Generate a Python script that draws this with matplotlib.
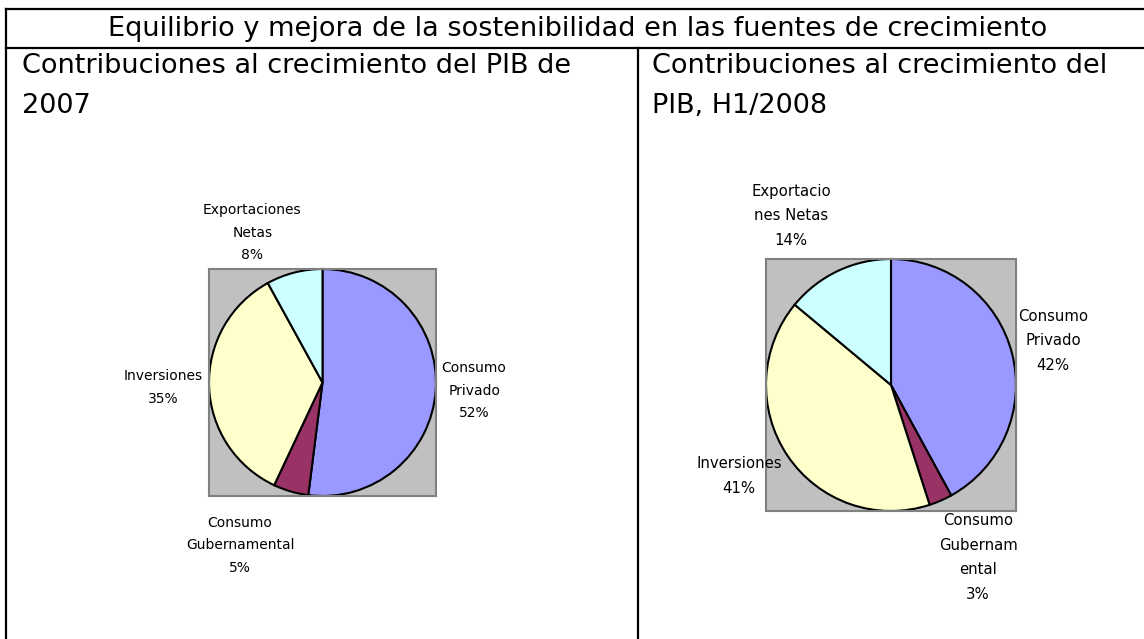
import matplotlib.pyplot as plt

# Data
categories_2007 = ['Consumo\nPrivado', 'Consumo\nGubernamental', 'Inversiones', 'Exportaciones\nNetas']
shares_2007 = [52, 5, 35, 8]
categories_2008 = ['Consumo\nPrivado', 'Consumo\nGubernam\nental', 'Inversiones', 'Exportacio\nnes Netas']
shares_2008 = [42, 3, 41, 14]

title = 'Equilibrio y mejora de la sostenibilidad en las fuentes de crecimiento'
title_2007 = 'Contribuciones al crecimiento del PIB de\n2007'
title_2008 = 'Contribuciones al crecimiento del\nPIB, H1/2008'

colors = ['#9999FF', '#993366', '#FFFFCC', '#CCFFFF']

W, H = 1144, 639
fig = plt.figure(figsize=(W / 100, H / 100), dpi=100)
fig.patch.set_facecolor('white')

# overlay in pixel coords for the table frame and headings
bg = fig.add_axes([0, 0, 1, 1])
bg.set_xlim(0, W)
bg.set_ylim(H, 0)
bg.axis('off')
lw = 1.6
bg.plot([6, W], [9, 9], color='black', lw=lw)
bg.plot([6, W], [48, 48], color='black', lw=lw)
bg.plot([6, 6], [9, H], color='black', lw=lw)
bg.plot([638, 638], [48, H], color='black', lw=lw)

bg.text(578, 29, title, ha='center', va='center', fontsize=19.5)
bg.text(22, 53, title_2007, ha='left', va='top', fontsize=19.5, linespacing=1.7)
bg.text(652, 53, title_2008, ha='left', va='top', fontsize=19.5, linespacing=1.7)


def draw_pie(box, values, labels, label_pos, fs, ls):
    x0, y0, x1, y1 = box
    ax = fig.add_axes([x0 / W, 1 - y1 / H, (x1 - x0) / W, (y1 - y0) / H])
    wedges, texts = ax.pie(values, labels=[f'{l}\n{v}%' for l, v in zip(labels, values)],
                           colors=colors, startangle=90, counterclock=False,
                           wedgeprops=dict(edgecolor='black', linewidth=1.5),
                           textprops=dict(fontsize=fs, linespacing=ls,
                                          ha='center', va='center'))
    for t, (px, py) in zip(texts, label_pos):
        t.set_position((px, py))
        t.set_ha('center')
        t.set_va('center')
        t.set_multialignment('center')
        t.set_clip_on(False)
    ax.set_frame_on(True)
    ax.set_facecolor('#C0C0C0')
    ax.set_xlim(-1, 1)
    ax.set_ylim(-1, 1)
    ax.set_aspect('auto')
    ax.set_xticks([])
    ax.set_yticks([])
    for s in ax.spines.values():
        s.set_visible(True)
        s.set_color('#808080')
        s.set_linewidth(1.5)


draw_pie((209, 269, 436, 496), shares_2007, categories_2007,
         [(1.336, -0.071), (-0.726, -1.434), (-1.407, -0.044), (-0.619, 1.319)], 10, 1.78)
draw_pie((766, 259, 1016, 511), shares_2008, categories_2008,
         [(1.296, 0.352), (0.696, -1.368), (-1.216, -0.72), (-0.8, 1.344)], 10.7, 1.8)

fig.savefig('out.png', dpi=100)
